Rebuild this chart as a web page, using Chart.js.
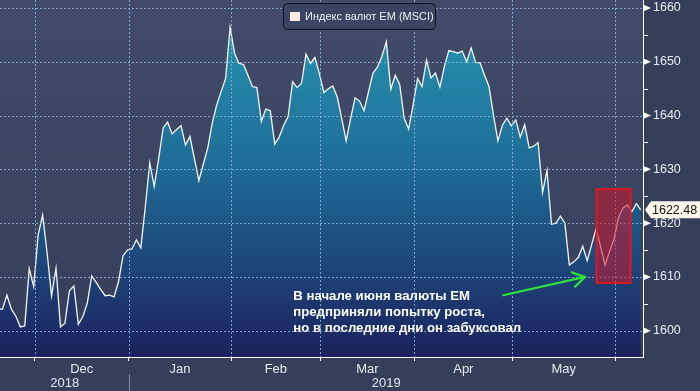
<!DOCTYPE html>
<html><head><meta charset="utf-8">
<script src="https://cdn.jsdelivr.net/npm/chart.js@4/dist/chart.umd.min.js"></script>
<style>html,body{margin:0;padding:0;background:#364059;overflow:hidden}</style>
</head><body>
<canvas id="c" width="700" height="391" style="display:block;width:700px;height:391px"></canvas>
<script>
// ---------- DATA ----------
const seriesName = 'Индекс валют EM (MSCI)';
const firstDate = '2018-11-20';           // first business day shown (partly clipped)
const values = [
 1604.0,1604.0,1606.6,1604.0,1602.7,1600.7,1600.9,1611.5,1608.2,1617.8,
 1621.5,1614.5,1606.5,1611.6,1600.7,1601.4,1607.4,1608.3,1601.2,1602.6,
 1605.1,1610.2,1609.0,1607.7,1606.5,1606.6,1606.3,1609.1,1613.9,1615.0,
 1615.2,1616.9,1615.4,1623.0,1631.2,1626.8,1632.0,1637.7,1638.8,1636.6,
 1637.4,1638.1,1634.5,1636.1,1632.0,1627.9,1631.0,1634.0,1638.6,1642.0,
 1644.5,1646.9,1656.4,1651.6,1649.7,1649.5,1647.5,1645.4,1645.2,1638.9,
 1641.2,1640.9,1634.7,1636.0,1638.2,1639.8,1646.3,1645.2,1646.0,1651.4,
 1649.7,1650.8,1647.8,1644.3,1645.0,1645.5,1643.5,1639.5,1635.3,1639.5,
 1643.3,1642.7,1640.9,1644.4,1647.9,1649.0,1651.0,1653.7,1644.9,1647.5,
 1645.8,1639.5,1637.5,1642.0,1646.9,1645.4,1650.3,1647.0,1647.9,1645.3,
 1649.1,1652.1,1651.9,1651.6,1652.0,1650.0,1652.6,1649.9,1649.8,1647.5,
 1645.4,1640.1,1635.3,1638.2,1639.5,1638.1,1639.2,1636.0,1638.3,1634.0,
 1634.3,1635.0,1625.7,1629.8,1619.8,1620.0,1621.3,1620.0,1612.2,1612.8,
 1613.6,1615.7,1613.0,1616.0,1619.0,1615.6,1612.2,1614.7,1617.0,1621.0,
 1622.8,1623.4,1622.1,1623.6,1622.48
];
const lastLabel = '1622.48';
const monthNames = ['Jan','Feb','Mar','Apr','May','Jun','Jul','Aug','Sep','Oct','Nov','Dec'];
const yMajor = [1600,1610,1620,1630,1640,1650,1660];
const yMinor = [1605,1615,1625,1635,1645,1655];
const noteLines = ['В начале июня валюты EM','предприняли попытку роста,','но в последние дни он забуксовал'];
const notePos = [66.15, 1606.3];                 // [business-day index, value]
const highlight = [134.1, 141.7, 1608.9, 1626.3]; // index from/to, value low/high
const arrowFrom = [113.2, 1606.6];
const arrowTo = [131.5, 1610.0];

// ---------- business-day calendar ----------
const dates = [];
{
  let d = new Date(firstDate + 'T00:00:00Z');
  while (dates.length < values.length) {
    const wd = d.getUTCDay();
    if (wd !== 0 && wd !== 6) dates.push(new Date(d));
    d = new Date(d.getTime() + 86400000);
  }
}
const bounds = [];   // month boundaries (index positions)
for (let i = 1; i < dates.length; i++) {
  if (dates[i].getUTCMonth() !== dates[i-1].getUTCMonth()) bounds.push({pos: i - 0.75, month: dates[i].getUTCMonth(), year: dates[i].getUTCFullYear()});
}
const xMin = 0.45, xMax = values.length - 0.5;
const xTicks = [];
bounds.forEach((b, k) => {
  xTicks.push({v: b.pos, label: ''});
  if (k + 1 < bounds.length) xTicks.push({v: (b.pos + bounds[k+1].pos) / 2, label: monthNames[b.month]});
});
const yearSplit = bounds.find(b => b.month === 0);

const FONT = 'Liberation Sans';
const gridCol = 'rgba(140,180,225,0.85)';

const deco = {
  id: 'deco',
  beforeDraw(chart) {
    const {ctx, chartArea: a, width, height} = chart;
    ctx.save();
    ctx.fillStyle = '#353f59';
    ctx.fillRect(0, 0, width, height);
    const g = ctx.createLinearGradient(0, a.top, 0, a.bottom);
    g.addColorStop(0, '#414c6a');
    g.addColorStop(1, '#343e5a');
    ctx.fillStyle = g;
    ctx.fillRect(a.left, a.top, a.right - a.left, a.bottom - a.top);
    ctx.restore();
  },
  afterDatasetsDraw(chart) {
    const {ctx, scales: {x, y}, chartArea: a} = chart;
    ctx.save();
    // dotted grid over the area fill
    ctx.strokeStyle = gridCol;
    ctx.lineWidth = 1;
    ctx.setLineDash([2, 2]);
    ctx.beginPath();
    bounds.forEach(b => {
      const px = Math.round(x.getPixelForValue(b.pos)) + 0.5;
      if (px > a.left && px < a.right) { ctx.moveTo(px, a.top); ctx.lineTo(px, a.bottom); }
    });
    yMajor.forEach(v => {
      const py = Math.round(y.getPixelForValue(v)) + 0.5;
      ctx.moveTo(a.left, py); ctx.lineTo(a.right, py);
    });
    ctx.stroke();
    ctx.setLineDash([]);
    // highlight box
    const hx1 = x.getPixelForValue(highlight[0]), hx2 = x.getPixelForValue(highlight[1]);
    const hy1 = y.getPixelForValue(highlight[3]), hy2 = y.getPixelForValue(highlight[2]);
    ctx.fillStyle = 'rgba(200,22,45,0.55)';
    ctx.fillRect(hx1, hy1, hx2 - hx1, hy2 - hy1);
    ctx.strokeStyle = '#e3161c';
    ctx.lineWidth = 2;
    ctx.strokeRect(hx1, hy1, hx2 - hx1, hy2 - hy1);
    // arrow
    const ax1 = x.getPixelForValue(arrowFrom[0]), ay1 = y.getPixelForValue(arrowFrom[1]);
    const ax2 = x.getPixelForValue(arrowTo[0]), ay2 = y.getPixelForValue(arrowTo[1]);
    const th = Math.atan2(ay2 - ay1, ax2 - ax1), L = 14, ph = 0.55;
    ctx.strokeStyle = '#2fe23c';
    ctx.lineWidth = 2.2;
    ctx.lineCap = 'round';
    ctx.beginPath();
    ctx.moveTo(ax1, ay1); ctx.lineTo(ax2, ay2);
    ctx.moveTo(ax2 - L * Math.cos(th + ph), ay2 - L * Math.sin(th + ph));
    ctx.lineTo(ax2, ay2);
    ctx.lineTo(ax2 - L * Math.cos(th - ph), ay2 - L * Math.sin(th - ph));
    ctx.stroke();
    // note
    ctx.fillStyle = '#ffffff';
    ctx.font = 'bold 13.2px "' + FONT + '"';
    ctx.textBaseline = 'middle';
    const nx = x.getPixelForValue(notePos[0]), ny = y.getPixelForValue(notePos[1]);
    noteLines.forEach((t, i) => ctx.fillText(t, nx, ny + i * 15.8));
    ctx.restore();
  },
  afterDraw(chart) {
    const {ctx, scales: {x, y}, chartArea: a} = chart;
    ctx.save();
    // y tick marks: triangles for major, short lines for minor
    ctx.fillStyle = '#ffffff';
    yMajor.forEach(v => {
      const py = y.getPixelForValue(v);
      ctx.beginPath();
      ctx.moveTo(a.right, py - 3.5); ctx.lineTo(a.right + 8, py); ctx.lineTo(a.right, py + 3.5);
      ctx.closePath(); ctx.fill();
    });
    ctx.strokeStyle = '#ffffff'; ctx.lineWidth = 1;
    yMinor.forEach(v => {
      const py = Math.round(y.getPixelForValue(v)) + 0.5;
      ctx.beginPath(); ctx.moveTo(a.right, py); ctx.lineTo(a.right + 5, py); ctx.stroke();
    });
    // year row
    const sx = Math.round(x.getPixelForValue(yearSplit.pos)) + 0.5;
    ctx.strokeStyle = '#7e8aa1';
    ctx.beginPath(); ctx.moveTo(sx, 374); ctx.lineTo(sx, 391); ctx.stroke();
    ctx.fillStyle = '#e2e7ef';
    ctx.font = '13px "' + FONT + '"';
    ctx.textAlign = 'center'; ctx.textBaseline = 'middle';
    ctx.fillText(String(yearSplit.year - 1), (a.left + sx) / 2, 383);
    ctx.fillText(String(yearSplit.year), (sx + a.right) / 2, 383);
    // legend
    ctx.textAlign = 'left';
    ctx.beginPath();
    ctx.roundRect(283.5, 3.5, 152, 26, 4);
    ctx.fillStyle = '#3a4563'; ctx.fill();
    ctx.strokeStyle = '#0e1322'; ctx.lineWidth = 1; ctx.stroke();
    ctx.fillStyle = '#fde9df';
    ctx.fillRect(290, 12, 10, 9);
    ctx.fillStyle = '#e8edf3';
    ctx.font = '11px "' + FONT + '"';
    ctx.fillText(seriesName, 305, 17);
    // last value tag
    const ty = y.getPixelForValue(values[values.length - 1]);
    ctx.beginPath();
    ctx.moveTo(a.right + 2, ty);
    ctx.lineTo(a.right + 8, ty - 8.5);
    ctx.lineTo(700, ty - 8.5);
    ctx.lineTo(700, ty + 8.5);
    ctx.lineTo(a.right + 8, ty + 8.5);
    ctx.closePath();
    ctx.fillStyle = '#fff6ea'; ctx.fill();
    ctx.fillStyle = '#111111';
    ctx.font = '12.5px "' + FONT + '"';
    ctx.textBaseline = 'middle';
    ctx.fillText(lastLabel, a.right + 9, ty + 0.5);
    ctx.restore();
  }
};

new Chart(document.getElementById('c'), {
  type: 'line',
  data: {
    datasets: [{
      label: seriesName,
      data: values.map((v, i) => ({x: i, y: v})),
      borderColor: '#f2f5fa',
      borderWidth: 1.3,
      pointRadius: 0,
      tension: 0,
      fill: 'start',
      backgroundColor: (c) => {
        const a = c.chart.chartArea;
        if (!a) return 'rgba(0,0,0,0)';
        const g = c.chart.ctx.createLinearGradient(0, a.top, 0, a.bottom);
        g.addColorStop(0, 'rgb(38,152,178)');
        g.addColorStop(0.45, 'rgb(31,110,152)');
        g.addColorStop(1, 'rgb(28,34,94)');
        return g;
      }
    }]
  },
  options: {
    responsive: false,
    animation: false,
    devicePixelRatio: 1,
    layout: {padding: 0},
    plugins: {legend: {display: false}, tooltip: {enabled: false}},
    scales: {
      x: {
        type: 'linear', min: xMin, max: xMax,
        afterBuildTicks: s => { s.ticks = xTicks.map(t => ({value: t.v})); },
        afterFit: s => { s.height = 34; s.paddingLeft = 0; s.paddingRight = 0; },
        ticks: {
          autoSkip: false, maxRotation: 0, minRotation: 0, padding: 1,
          color: '#e2e7ef', font: {family: FONT, size: 13},
          callback: (v, i) => xTicks[i] ? xTicks[i].label : ''
        },
        grid: {
          drawOnChartArea: false, drawTicks: true, tickLength: 4, lineWidth: 1,
          tickColor: c => (xTicks[c.index] && xTicks[c.index].label) ? 'rgba(0,0,0,0)' : '#ffffff'
        },
        border: {display: true, color: '#ffffff', width: 1}
      },
      y: {
        position: 'right', min: 1595.11, max: 1661.49,
        afterBuildTicks: s => { s.ticks = yMajor.map(v => ({value: v})); },
        afterFit: s => { s.width = 57; s.paddingTop = 0; s.paddingBottom = 0; },
        ticks: {padding: 10, color: '#e6ebf2', font: {family: FONT, size: 12.5}, callback: v => String(v)},
        grid: {drawOnChartArea: false, drawTicks: false},
        border: {display: true, color: '#ffffff', width: 1}
      }
    }
  },
  plugins: [deco]
});
</script>
</body></html>
